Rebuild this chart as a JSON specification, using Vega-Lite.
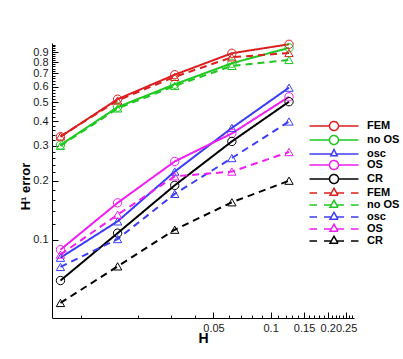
{
  "$schema": "https://vega.github.io/schema/vega-lite/v6.json",
  "width": 302,
  "height": 275,
  "autosize": {"type": "none"},
  "padding": {"left": 52, "top": 43, "right": 49, "bottom": 41},
  "background": "white",
  "config": {"view": {"stroke": null}, "font": "Liberation Sans"},
  "data": {"values": [
    {"curve": "FEM-1", "set": "1", "H": 0.0078125, "err": 0.334},
    {"curve": "FEM-1", "set": "1", "H": 0.015625, "err": 0.518},
    {"curve": "FEM-1", "set": "1", "H": 0.03125, "err": 0.69},
    {"curve": "FEM-1", "set": "1", "H": 0.0625, "err": 0.887},
    {"curve": "FEM-1", "set": "1", "H": 0.125, "err": 0.985},
    {"curve": "no OS-1", "set": "1", "H": 0.0078125, "err": 0.303},
    {"curve": "no OS-1", "set": "1", "H": 0.015625, "err": 0.472},
    {"curve": "no OS-1", "set": "1", "H": 0.03125, "err": 0.617},
    {"curve": "no OS-1", "set": "1", "H": 0.0625, "err": 0.789},
    {"curve": "no OS-1", "set": "1", "H": 0.125, "err": 0.945},
    {"curve": "osc-1", "set": "1", "H": 0.0078125, "err": 0.081},
    {"curve": "osc-1", "set": "1", "H": 0.015625, "err": 0.124},
    {"curve": "osc-1", "set": "1", "H": 0.03125, "err": 0.222},
    {"curve": "osc-1", "set": "1", "H": 0.0625, "err": 0.37},
    {"curve": "osc-1", "set": "1", "H": 0.125, "err": 0.593},
    {"curve": "OS-1", "set": "1", "H": 0.0078125, "err": 0.089},
    {"curve": "OS-1", "set": "1", "H": 0.015625, "err": 0.154},
    {"curve": "OS-1", "set": "1", "H": 0.03125, "err": 0.25},
    {"curve": "OS-1", "set": "1", "H": 0.0625, "err": 0.347},
    {"curve": "OS-1", "set": "1", "H": 0.125, "err": 0.533},
    {"curve": "CR-1", "set": "1", "H": 0.0078125, "err": 0.062},
    {"curve": "CR-1", "set": "1", "H": 0.015625, "err": 0.108},
    {"curve": "CR-1", "set": "1", "H": 0.03125, "err": 0.189},
    {"curve": "CR-1", "set": "1", "H": 0.0625, "err": 0.316},
    {"curve": "CR-1", "set": "1", "H": 0.125, "err": 0.503},
    {"curve": "FEM-2", "set": "2", "H": 0.0078125, "err": 0.335},
    {"curve": "FEM-2", "set": "2", "H": 0.015625, "err": 0.51},
    {"curve": "FEM-2", "set": "2", "H": 0.03125, "err": 0.673},
    {"curve": "FEM-2", "set": "2", "H": 0.0625, "err": 0.846},
    {"curve": "FEM-2", "set": "2", "H": 0.125, "err": 0.89},
    {"curve": "no OS-2", "set": "2", "H": 0.0078125, "err": 0.3},
    {"curve": "no OS-2", "set": "2", "H": 0.015625, "err": 0.465},
    {"curve": "no OS-2", "set": "2", "H": 0.03125, "err": 0.605},
    {"curve": "no OS-2", "set": "2", "H": 0.0625, "err": 0.765},
    {"curve": "no OS-2", "set": "2", "H": 0.125, "err": 0.82},
    {"curve": "osc-2", "set": "2", "H": 0.0078125, "err": 0.0727},
    {"curve": "osc-2", "set": "2", "H": 0.015625, "err": 0.1008},
    {"curve": "osc-2", "set": "2", "H": 0.03125, "err": 0.171},
    {"curve": "osc-2", "set": "2", "H": 0.0625, "err": 0.26},
    {"curve": "osc-2", "set": "2", "H": 0.125, "err": 0.399},
    {"curve": "OS-2", "set": "2", "H": 0.0078125, "err": 0.084},
    {"curve": "OS-2", "set": "2", "H": 0.015625, "err": 0.134},
    {"curve": "OS-2", "set": "2", "H": 0.03125, "err": 0.21},
    {"curve": "OS-2", "set": "2", "H": 0.0625, "err": 0.222},
    {"curve": "OS-2", "set": "2", "H": 0.125, "err": 0.279},
    {"curve": "CR-2", "set": "2", "H": 0.0078125, "err": 0.0477},
    {"curve": "CR-2", "set": "2", "H": 0.015625, "err": 0.0732},
    {"curve": "CR-2", "set": "2", "H": 0.03125, "err": 0.1124},
    {"curve": "CR-2", "set": "2", "H": 0.0625, "err": 0.155},
    {"curve": "CR-2", "set": "2", "H": 0.125, "err": 0.1995}
  ]},
  "encoding": {
    "x": {
      "field": "H", "type": "quantitative",
      "scale": {"type": "log", "domain": [0.00705, 0.275], "nice": false},
      "title": "H",
      "axis": {
        "values": [0.01,0.02,0.03,0.04,0.05,0.06,0.07,0.08,0.09,0.1,0.11,0.12,0.13,0.14,0.15,0.16,0.17,0.18,0.19,0.2,0.21,0.22,0.23,0.24,0.25,0.26,0.27],
        "labelExpr": "abs(datum.value*20-round(datum.value*20))<0.001 ? format(datum.value,'~g') : ''",
        "labelOverlap": false,
        "labelFlush": false,
        "grid": false,
        "domainColor": "#000", "domainWidth": 1,
        "tickColor": "#000", "tickWidth": 1,
        "tickSize": {"condition": {"test": "abs(datum.value*20-round(datum.value*20))<0.001", "value": -6}, "value": -3},
        "labelPadding": 10,
        "labelFont": "Liberation Sans", "labelFontSize": 11, "labelColor": "#1a1a1a",
        "titleFont": "Liberation Sans", "titleFontSize": 14, "titleFontWeight": "bold", "titleColor": "#000",
        "titleY": 24, "titleBaseline": "alphabetic"
      }
    },
    "y": {
      "field": "err", "type": "quantitative",
      "scale": {"type": "log", "domain": [0.04, 1.0], "nice": false},
      "title": "H¹ error",
      "axis": {
        "values": [0.1,0.12,0.14,0.16,0.18,0.2,0.22,0.24,0.26,0.28,0.3,0.32,0.34,0.36,0.38,0.4,0.42,0.44,0.46,0.48,0.5,0.52,0.54,0.56,0.58,0.6,0.62,0.64,0.66,0.68,0.7,0.72,0.74,0.76,0.78,0.8,0.82,0.84,0.86,0.88,0.9,0.92,0.94,0.96,0.98],
        "labelExpr": "abs(datum.value*10-round(datum.value*10))<0.001 ? format(datum.value,'.1f') : ''",
        "labelOverlap": false,
        "labelFlush": false,
        "grid": false,
        "domainColor": "#000", "domainWidth": 1,
        "tickColor": "#000", "tickWidth": 1,
        "tickSize": {"condition": {"test": "abs(datum.value*10-round(datum.value*10))<0.001", "value": -6}, "value": -3},
        "labelPadding": 10,
        "labelFont": "Liberation Sans", "labelFontSize": 11, "labelColor": "#1a1a1a",
        "titleFont": "Liberation Sans", "titleFontSize": 13, "titleFontWeight": "bold", "titleColor": "#000",
        "titleAngle": -90, "titleX": -23, "titleY": 143, "titleBaseline": "alphabetic", "titleAlign": "center"
      }
    },
    "color": {
      "field": "curve", "type": "nominal",
      "scale": {
        "domain": ["FEM-1","no OS-1","osc-1","OS-1","CR-1","FEM-2","no OS-2","osc-2","OS-2","CR-2"],
        "range": ["#dc1f1f","#1fc81f","#3c3cf5","#f01ef0","#000000","#dc1f1f","#1fc81f","#3c3cf5","#f01ef0","#000000"]
      },
      "legend": {
        "orient": "none", "legendX": 276, "legendY": 77,
        "title": null, "padding": 0,
        "labelExpr": "split(datum.label,'-')[0]",
        "labelFont": "Liberation Sans", "labelFontSize": 11, "labelFontWeight": "bold", "labelColor": "#000",
        "labelOffset": 27, "rowPadding": -2,
        "symbolSize": 100, "symbolStrokeWidth": 1.5,
        "encode": {
          "symbols": {
            "update": {
              "shape": {"signal": "indexof(datum.value,'-2')>=0 ? 'M-4.9,0H-3.4M-2,0H-0.54M0.54,0H2M3.4,0H4.9M-0.8,0.45H0.8L0,-0.95Z' : (datum.value=='osc-1' ? 'M-4.9,0H-0.47M0.47,0H4.9M-0.65,0.35H0.65L0,-0.9Z' : 'M-4.9,0H-0.9M0.9,0H4.9M-0.9,0A0.9,0.9 0 1,1 0.9,0A0.9,0.9 0 1,1 -0.9,0')"},
              "size": {"value": 100},
              "fill": {"value": "transparent"},
              "strokeWidth": {"value": 1.5},
              "strokeDash": {"value": [1, 0]},
              "opacity": {"value": 1}
            }
          }
        }
      }
    }
  },
  "layer": [
    {
      "mark": {"type": "line", "strokeWidth": 2},
      "encoding": {
        "strokeDash": {"field": "set", "type": "nominal", "scale": {"domain": ["1","2"], "range": [[1,0],[7,5]]}, "legend": null}
      }
    },
    {
      "transform": [{"filter": "datum.set=='1' && datum.curve!='osc-1'"}],
      "mark": {"type": "point", "shape": "circle", "filled": false, "size": 70, "strokeWidth": 1, "opacity": 1}
    },
    {
      "transform": [{"filter": "datum.set=='2' || datum.curve=='osc-1'"}],
      "mark": {"type": "point", "shape": "triangle-up", "filled": false, "size": 70, "strokeWidth": 1, "opacity": 1}
    }
  ]
}
